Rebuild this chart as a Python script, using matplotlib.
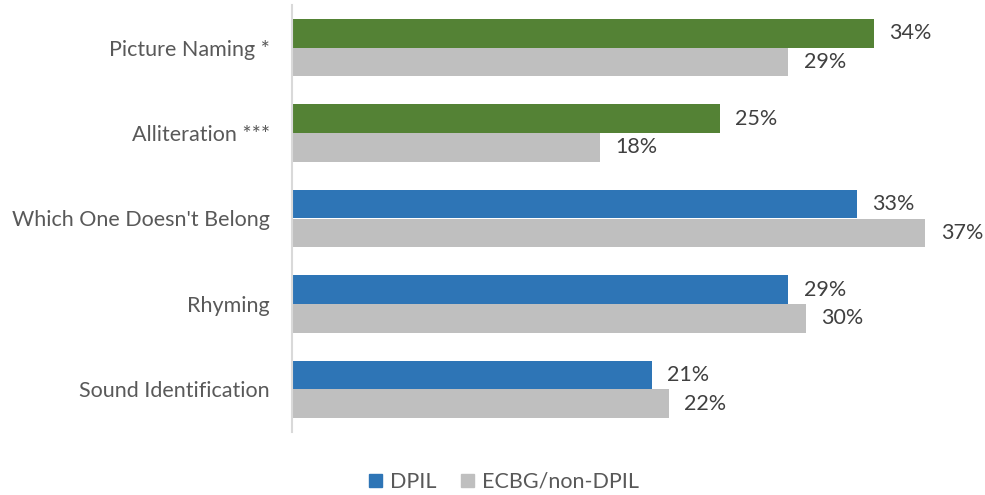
import matplotlib
matplotlib.use("Agg")
import matplotlib.pyplot as plt
import numpy as np

categories = ["Picture Naming *", "Alliteration ***", "Which One Doesn't Belong", "Rhyming", "Sound Identification"]
dpil = [34, 25, 33, 29, 21]
ecbg = [29, 18, 37, 30, 22]
series_names = ["DPIL", "ECBG/non-DPIL"]

plt.rcParams['font.family'] = ['Lato', 'DejaVu Sans']

fig = plt.figure(figsize=(9.85, 4.95), dpi=100)
ax = fig.add_axes([292/985, 1-432/495, (985-292)/985, 427/495])

n = len(categories)
y = np.arange(n)
h = 0.335
dpil_colors = ["#548235", "#548235", "#2E75B6", "#2E75B6", "#2E75B6"]
ax.barh(y - h/2, dpil, height=h, color=dpil_colors)
ax.barh(y + h/2, ecbg, height=h, color="#BFBFBF")

for i in range(n):
    ax.text(dpil[i] + 0.9, y[i] - h/2, f"{dpil[i]}%", va="center", ha="left", fontsize=15.5, color="#404040")
    ax.text(ecbg[i] + 0.9, y[i] + h/2, f"{ecbg[i]}%", va="center", ha="left", fontsize=15.5, color="#404040")

ax.set_ylim(n - 0.5, -0.5)
ax.set_xlim(0, (985-292)/17.12)
ax.set_yticks(y)
ax.set_yticklabels(categories, fontsize=15.5, color="#595959")
ax.set_xticks([])
for s in ["top", "right", "bottom"]:
    ax.spines[s].set_visible(False)
ax.spines["left"].set_color("#D9D9D9")
ax.spines["left"].set_linewidth(1.5)
ax.tick_params(axis="y", length=0, pad=16)

from matplotlib.patches import Patch
handles = [Patch(color="#2E75B6"), Patch(color="#BFBFBF")]
fig.legend(handles, series_names, loc="center", bbox_to_anchor=(504/985, 1-482/495), ncol=2,
           frameon=False, fontsize=15.5, handlelength=0.6, handleheight=0.6, handletextpad=0.4,
           columnspacing=1.1, labelcolor="#595959")

fig.savefig("out.png", dpi=100)
